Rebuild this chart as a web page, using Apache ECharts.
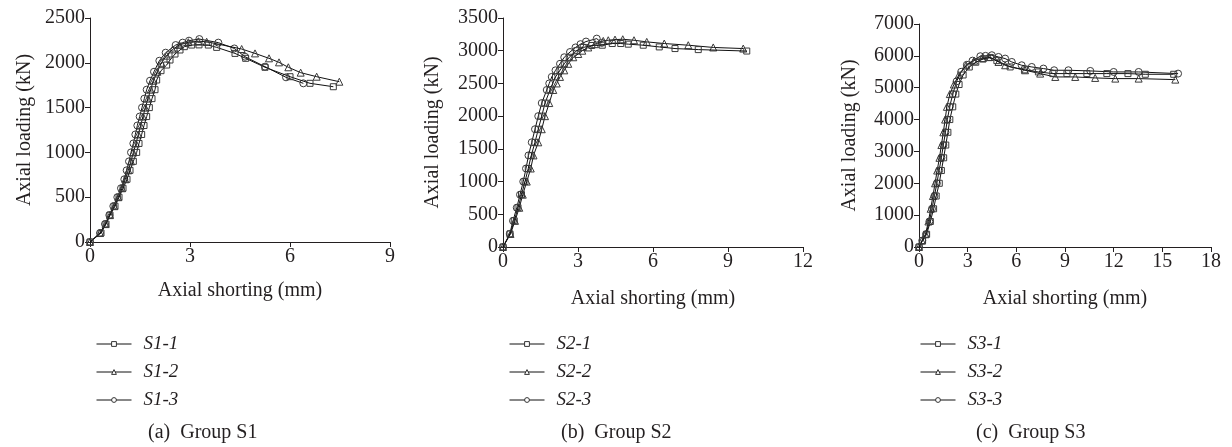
<!DOCTYPE html>
<html>
<head>
<meta charset="utf-8">
<script src="https://cdn.jsdelivr.net/npm/echarts@6/dist/echarts.min.js"></script>
<style>
html,body{margin:0;padding:0;background:#fff;}
#c{width:1232px;height:447px;}
</style>
</head>
<body>
<div id="c"></div>
<script>
// ---- Data (axial shorting mm, axial loading kN) ----
const s1_1 = [[0,0],[0.33,100],[0.48,200],[0.6,300],[0.75,400],[0.87,500],[0.99,600],[1.11,700],[1.2,800],[1.3,900],[1.4,1000],[1.47,1100],[1.55,1200],[1.62,1300],[1.7,1400],[1.78,1500],[1.86,1600],[1.95,1700],[2.0,1808],[2.13,1912],[2.3,1975],[2.4,2031],[2.55,2098],[2.7,2143],[2.83,2180],[3.05,2198],[3.27,2200],[3.55,2198],[3.8,2172],[4.35,2105],[4.67,2050],[5.25,1950],[6.0,1845],[6.6,1771],[7.3,1733]];
const s1_2 = [[0,0],[0.3,100],[0.47,200],[0.6,300],[0.73,400],[0.85,500],[0.96,600],[1.06,700],[1.15,800],[1.23,900],[1.3,1000],[1.38,1100],[1.45,1200],[1.52,1300],[1.59,1400],[1.66,1500],[1.74,1600],[1.82,1700],[1.9,1800],[2.02,1900],[2.14,2000],[2.3,2080],[2.48,2150],[2.68,2200],[2.95,2230],[3.25,2240],[3.5,2235],[4.55,2154],[4.95,2105],[5.37,2050],[5.67,2005],[5.95,1950],[6.32,1890],[6.8,1845],[7.48,1789]];
const s1_3 = [[0,0],[0.3,100],[0.45,200],[0.58,300],[0.7,400],[0.82,500],[0.93,600],[1.03,700],[1.1,800],[1.17,900],[1.23,1000],[1.3,1100],[1.36,1200],[1.42,1300],[1.49,1400],[1.56,1500],[1.63,1600],[1.7,1700],[1.8,1800],[1.92,1900],[2.08,2023],[2.27,2113],[2.57,2198],[2.78,2225],[2.97,2247],[3.28,2265],[3.85,2225],[4.33,2160],[4.65,2068],[5.25,1957],[5.88,1838],[6.4,1771]];

const s2_1 = [[0,0],[0.28,200],[0.45,400],[0.6,600],[0.74,800],[0.88,1000],[1.01,1200],[1.13,1400],[1.28,1600],[1.41,1800],[1.55,2000],[1.68,2200],[1.88,2400],[2.1,2600],[2.28,2700],[2.45,2800],[2.65,2900],[2.95,3000],[3.21,3050],[3.55,3080],[3.97,3084],[4.37,3110],[4.71,3110],[5.01,3100],[5.61,3084],[6.25,3058],[6.88,3033],[7.81,3017],[9.75,2995]];
const s2_2 = [[0,0],[0.3,200],[0.48,400],[0.65,600],[0.79,800],[0.95,1000],[1.11,1200],[1.22,1400],[1.41,1600],[1.55,1800],[1.68,2000],[1.85,2200],[2.01,2400],[2.15,2500],[2.28,2600],[2.45,2700],[2.61,2800],[2.81,2900],[3.01,2950],[3.17,3000],[3.41,3050],[3.68,3100],[4.01,3150],[4.21,3160],[4.48,3170],[4.79,3175],[5.24,3160],[5.75,3135],[6.45,3110],[7.41,3084],[8.41,3050],[9.61,3033]];
const s2_3 = [[0,0],[0.27,200],[0.4,400],[0.55,600],[0.68,800],[0.81,1000],[0.92,1200],[1.02,1400],[1.15,1600],[1.28,1800],[1.41,2000],[1.55,2200],[1.75,2400],[1.85,2500],[1.95,2600],[2.1,2700],[2.28,2800],[2.45,2900],[2.68,2980],[2.9,3050],[3.1,3100],[3.32,3140],[3.75,3185],[3.95,3120]];

const s3_1 = [[0,0],[0.22,200],[0.47,400],[0.7,800],[0.9,1200],[1.06,1600],[1.25,2000],[1.38,2400],[1.52,2800],[1.65,3200],[1.78,3600],[1.9,4000],[2.08,4400],[2.27,4800],[2.47,5100],[2.72,5400],[3.1,5650],[3.5,5800],[3.95,5900],[4.4,5950],[4.8,5850],[5.62,5652],[6.5,5560],[7.36,5495],[8.25,5443],[9.12,5443],[10.35,5443],[11.58,5443],[12.88,5443],[13.95,5422],[15.7,5422]];
const s3_2 = [[0,0],[0.18,200],[0.4,400],[0.58,800],[0.72,1200],[0.86,1600],[0.99,2000],[1.12,2400],[1.26,2800],[1.38,3200],[1.5,3600],[1.61,4000],[1.72,4400],[1.9,4800],[2.15,5100],[2.45,5400],[2.9,5700],[3.4,5850],[3.9,5930],[4.3,5960],[4.9,5809],[5.31,5705],[6.54,5548],[7.47,5443],[8.4,5338],[9.63,5338],[10.86,5307],[12.1,5286],[13.54,5286],[15.8,5254]];
const s3_3 = [[0,0],[0.2,200],[0.43,400],[0.64,800],[0.8,1200],[0.95,1600],[1.1,2000],[1.24,2400],[1.38,2800],[1.5,3200],[1.63,3600],[1.75,4000],[1.89,4400],[2.08,4800],[2.32,5200],[2.6,5500],[2.95,5720],[3.3,5850],[3.78,5988],[4.1,6000],[4.49,6020],[4.9,5966],[5.31,5915],[5.72,5809],[6.33,5705],[6.95,5652],[7.67,5601],[8.33,5548],[9.21,5548],[10.56,5527],[12.0,5495],[13.54,5495],[15.97,5443]];

const names1 = ['S1-1','S1-2','S1-3'];
const names2 = ['S2-1','S2-2','S2-3'];
const names3 = ['S3-1','S3-2','S3-3'];
const captions = ['(a)  Group S1','(b)  Group S2','(c)  Group S3'];
const xName = 'Axial shorting (mm)';
const yName = 'Axial loading (kN)';
const xMax = [9, 12, 18];
const yMax = [2500, 3500, 7000];
const yInterval = [500, 500, 1000];

// ---- Chart ----
const FONT = '"Liberation Serif","Times New Roman",serif';
const INK = '#231f20';
const symbols = ['rect','triangle','circle'];
const symSizes = [6, 7, 7];

const grids = [
  {left: 90, top: 18, width: 300, height: 224},
  {left: 503, top: 18, width: 300, height: 229},
  {left: 919, top: 24, width: 292, height: 223}
];
const yGaps = [55, 60, 59];
const xGaps = [39, 42, 42];

function xAxis(i){
  return {
    type:'value', gridIndex:i, min:0, max:xMax[i], interval:3,
    name:xName, nameLocation:'middle', nameGap:xGaps[i],
    nameTextStyle:{fontFamily:FONT, fontSize:20, color:INK},
    axisLine:{show:true, onZero:false, lineStyle:{color:INK, width:1}},
    axisTick:{show:true, length:5, inside:false, lineStyle:{color:INK}},
    axisLabel:{fontFamily:FONT, fontSize:20, color:INK, margin:5, formatter:(v)=>String(v)},
    splitLine:{show:false}
  };
}
function yAxis(i){
  return {
    type:'value', gridIndex:i, min:0, max:yMax[i], interval:yInterval[i],
    name:yName, nameLocation:'middle', nameGap:yGaps[i],
    nameTextStyle:{fontFamily:FONT, fontSize:20, color:INK},
    axisLine:{show:true, onZero:false, lineStyle:{color:INK, width:1}},
    axisTick:{show:true, length:5, inside:false, lineStyle:{color:INK}},
    axisLabel:{fontFamily:FONT, fontSize:20, color:INK, margin:5, formatter:(v)=>String(v)},
    splitLine:{show:false}
  };
}
function ser(name, data, k, gi){
  return {
    type:'line', name:name, data:data, xAxisIndex:gi, yAxisIndex:gi,
    symbol:symbols[k], symbolSize:symSizes[k], showSymbol:true,
    lineStyle:{color:'#111', width:1},
    itemStyle:{color:'rgba(255,255,255,0)', borderColor:'#3a3a3a', borderWidth:1},
    emphasis:{disabled:true}, animation:false, z: 3 - k
  };
}
const allNames = [names1, names2, names3];
const allData = [[s1_1,s1_2,s1_3],[s2_1,s2_2,s2_3],[s3_1,s3_2,s3_3]];
const series = [];
for (let g=0; g<3; g++) for (let k=0; k<3; k++) series.push(ser(allNames[g][k], allData[g][k], k, g));

const legendLeft = [91, 504, 915];
const legends = legendLeft.map((l,i)=>({
  data: allNames[i], orient:'vertical', left:l, top:329,
  itemWidth:35, itemHeight:6, itemGap:8,
  selectedMode:false,
  itemStyle:{color:'#fff', borderColor:'#333', borderWidth:1},
  lineStyle:{color:'#111', width:1},
  textStyle:{fontFamily:FONT, fontStyle:'italic', fontSize:19, color:INK, lineHeight:20, padding:[0,0,0,7]}
}));
const titleLeft = [148, 561, 976];
const titles = captions.map((t,i)=>({
  text:t, left:titleLeft[i], top:423, padding:0,
  textStyle:{fontFamily:FONT, fontWeight:'normal', fontSize:20, color:INK}
}));

const chart = echarts.init(document.getElementById('c'), null, {renderer:'canvas'});
chart.setOption({
  backgroundColor:'#fff',
  animation:false,
  title: titles,
  legend: legends,
  grid: grids,
  xAxis: [0,1,2].map(xAxis),
  yAxis: [0,1,2].map(yAxis),
  series: series
});
</script>
</body>
</html>
